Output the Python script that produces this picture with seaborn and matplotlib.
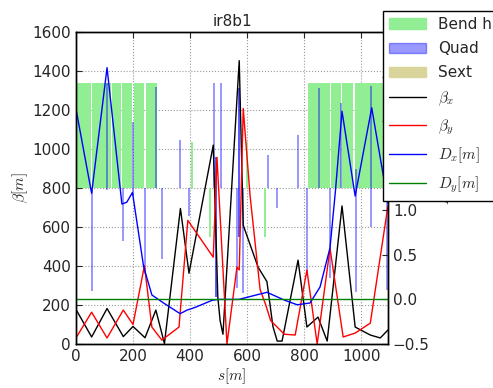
import numpy as np
import matplotlib
matplotlib.use('Agg')
import matplotlib.pyplot as plt
import matplotlib.patches as mpatches
import matplotlib.lines as mlines
import seaborn as sns

# beta functions [m] vs s [m]
s_betx = [0, 55, 109, 166, 200, 242, 280, 310, 366, 396, 481, 497, 505, 515, 572,
          586, 638, 669, 690, 705, 722, 778, 809, 848, 880, 932, 978, 1031, 1066, 1093]
betx = [178, 36, 182, 38, 90, 32, 174, 2, 695, 363, 1020, 240, 120, 50, 1453,
        609, 394, 320, 90, 15, 15, 430, 87, 138, 15, 708, 87, 46, 31, 72]

s_bety = [0, 55, 109, 166, 200, 240, 266, 301, 361, 392, 481, 494, 529, 564, 572,
          586, 610, 645, 665, 682, 730, 768, 809, 845, 890, 936, 978, 1031, 1093]
bety = [31, 163, 31, 174, 100, 402, 87, 20, 87, 634, 445, 957, 0, 394, 380,
        1208, 760, 280, 200, 120, 50, 46, 379, 0, 490, 36, 56, 107, 710]

# dispersion [m] (right axis)
s_dx = [0, 55, 109, 161, 178, 198, 237, 266, 307, 365, 389, 417, 477, 497, 570,
        669, 732, 775, 820, 855, 890, 909, 932, 978, 1036, 1093]
dx = [2.14, 1.19, 2.60, 1.07, 1.09, 1.20, 0.37, 0.05, -0.04, -0.16, -0.12, -0.09, -0.01, 0.0, 0.0,
      0.08, -0.01, -0.06, -0.04, 0.14, 0.58, 1.22, 2.11, 1.16, 2.15, 1.08]
s_dy = [0, 1093]
dy = [0.0, 0.0]

# elements: bends (start, end, low, high)
bend_start = [0, 58, 128, 163, 202, 244, 403, 466, 595, 658, 813, 893, 931, 976]
bend_end = [54, 124, 159, 198, 240, 284, 410, 474, 603, 666, 889, 927, 969, 1093]
bend_lo = [800, 800, 800, 800, 800, 800, 800, 548, 800, 548, 800, 800, 800, 800]
bend_hi = [1340, 1340, 1340, 1340, 1340, 1340, 1034, 800, 1034, 800, 1340, 1340, 1340, 1340]

# quads (centre, low, high)
quad_s = [2, 56, 109, 165, 200, 242, 281, 301, 364, 397, 484, 489, 489, 507,
          565, 572, 572, 585, 673, 704, 778, 810, 851, 890, 929, 981, 1034, 1090]
quad_lo = [800, 270, 790, 530, 760, 360, 800, 435, 800, 655, 800, 240, 240, 800,
           287, 548, 548, 261, 800, 700, 800, 350, 800, 338, 800, 266, 600, 276]
quad_hi = [1330, 790, 1340, 800, 1140, 800, 1320, 800, 1046, 800, 1340, 960, 960, 1340,
           800, 1315, 1315, 800, 967, 800, 1070, 800, 1315, 800, 1238, 900, 1325, 800]

sns.set_style("white")
plt.rcParams['font.family'] = ['DejaVu Sans']
plt.rcParams['mathtext.fontset'] = 'cm'
plt.rcParams['font.size'] = 11

fig = plt.figure(figsize=(4.93, 3.88), dpi=100)
ax = fig.add_axes([0.154, 0.1134, 0.633, 0.8041])
ax2 = ax.twinx()

bend_color = '#92ee92'
quad_color = (0.0, 0.0, 1.0, 0.4)
sext_color = '#d8d49a'

for a, b, lo, hi in zip(bend_start, bend_end, bend_lo, bend_hi):
    ax.bar(a, hi - lo, width=b - a, bottom=lo, align='edge', color=bend_color, linewidth=0)
for s, lo, hi in zip(quad_s, quad_lo, quad_hi):
    ax.bar(s, hi - lo, width=7, bottom=lo, color=quad_color, linewidth=0)

sns.lineplot(x=s_betx, y=betx, ax=ax, color='k', lw=1, estimator=None, sort=False)
sns.lineplot(x=s_bety, y=bety, ax=ax, color='r', lw=1, estimator=None, sort=False)
sns.lineplot(x=s_dx, y=dx, ax=ax2, color='b', lw=1, estimator=None, sort=False)
sns.lineplot(x=s_dy, y=dy, ax=ax2, color='g', lw=1, estimator=None, sort=False)

ax.set_xlim(0, 1093)
ax.set_ylim(0, 1600)
ax2.set_ylim(-0.5, 3.0)
ax.set_xticks(np.arange(0, 1001, 200))
ax.set_yticks(np.arange(0, 1601, 200))
ax2.set_yticks(np.arange(-0.5, 3.01, 0.5))
ax.grid(True, ls=':', color='0.6', lw=0.8)
ax.tick_params(direction='in', top=True, length=4, labelsize=11)
ax2.tick_params(direction='in', length=4, labelsize=11)
for sp in list(ax.spines.values()) + list(ax2.spines.values()):
    sp.set_color('k')
    sp.set_linewidth(1)

ax.set_title('ir8b1', fontsize=11, pad=4)
ax.set_xlabel('$s[m]$', fontsize=11, labelpad=2)
ax.set_ylabel(r'$\beta[m]$', fontsize=11, labelpad=2)
ax2.set_ylabel('$D[m]$', fontsize=11)

handles = [
    mpatches.Patch(color=bend_color, label='Bend h'),
    mpatches.Patch(color=quad_color, label='Quad'),
    mpatches.Patch(color=sext_color, label='Sext'),
    mlines.Line2D([], [], color='k', lw=1, label=r'$\beta_x$'),
    mlines.Line2D([], [], color='r', lw=1, label=r'$\beta_y$'),
    mlines.Line2D([], [], color='b', lw=1, label='$D_x[m]$'),
    mlines.Line2D([], [], color='g', lw=1, label='$D_y[m]$'),
]
leg = fig.legend(handles=handles, loc='upper left', bbox_to_anchor=(383 / 493, 1 - 11 / 388),
                 bbox_transform=fig.transFigure, borderaxespad=0, fancybox=False,
                 framealpha=1, edgecolor='k', fontsize=11, handlelength=2.4,
                 labelspacing=0.6)
leg.get_frame().set_linewidth(1)

fig.savefig('out.png', dpi=100)
